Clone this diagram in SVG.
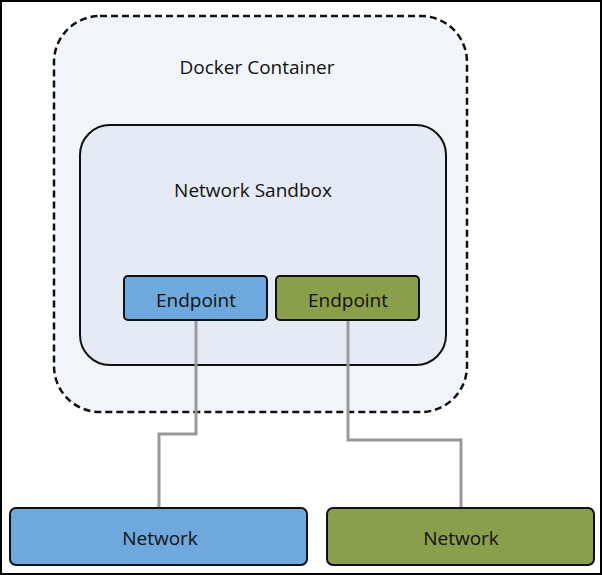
<svg xmlns="http://www.w3.org/2000/svg" width="602" height="575" viewBox="0 0 602 575">
<style>
text{font-family:"Open Sans","Liberation Sans",sans-serif;fill:#111;text-anchor:middle}
.t{font-size:19px}
.box{stroke:#111;stroke-width:2}
.blue{fill:#6fa8dc}
.green{fill:#8a9f4c}
.conn{fill:none;stroke:#999;stroke-width:3}
</style>
<rect x="1" y="1" width="600" height="573" fill="#fff" stroke="#000" stroke-width="2"/>
<g id="container">
<rect x="54" y="16" width="413" height="396" rx="46" fill="#f1f5fa" stroke="#111" stroke-width="2.5" stroke-dasharray="7,4"/>
<text class="t" x="257" y="74">Docker Container</text>
</g>
<g id="sandbox">
<rect x="80" y="125" width="366" height="240" rx="30" fill="#e4ebf5" class="box"/>
<text class="t" x="253" y="197">Network Sandbox</text>
</g>
<g id="connectors">
<polyline class="conn" points="196,320 196,434 159,434 159,508"/>
<polyline class="conn" points="348,320 348,440 461,440 461,508"/>
</g>
<g id="endpoint1">
<rect x="124" y="276" width="143" height="44" rx="4" class="box blue"/>
<text class="t" x="196" y="307">Endpoint</text>
</g>
<g id="endpoint2">
<rect x="276" y="276" width="143" height="44" rx="4" class="box green"/>
<text class="t" x="348" y="307">Endpoint</text>
</g>
<g id="network1">
<rect x="10" y="508" width="297" height="57" rx="6" class="box blue"/>
<text class="t" x="160" y="545">Network</text>
</g>
<g id="network2">
<rect x="327" y="508" width="267" height="57" rx="6" class="box green"/>
<text class="t" x="461" y="545">Network</text>
</g>
</svg>
